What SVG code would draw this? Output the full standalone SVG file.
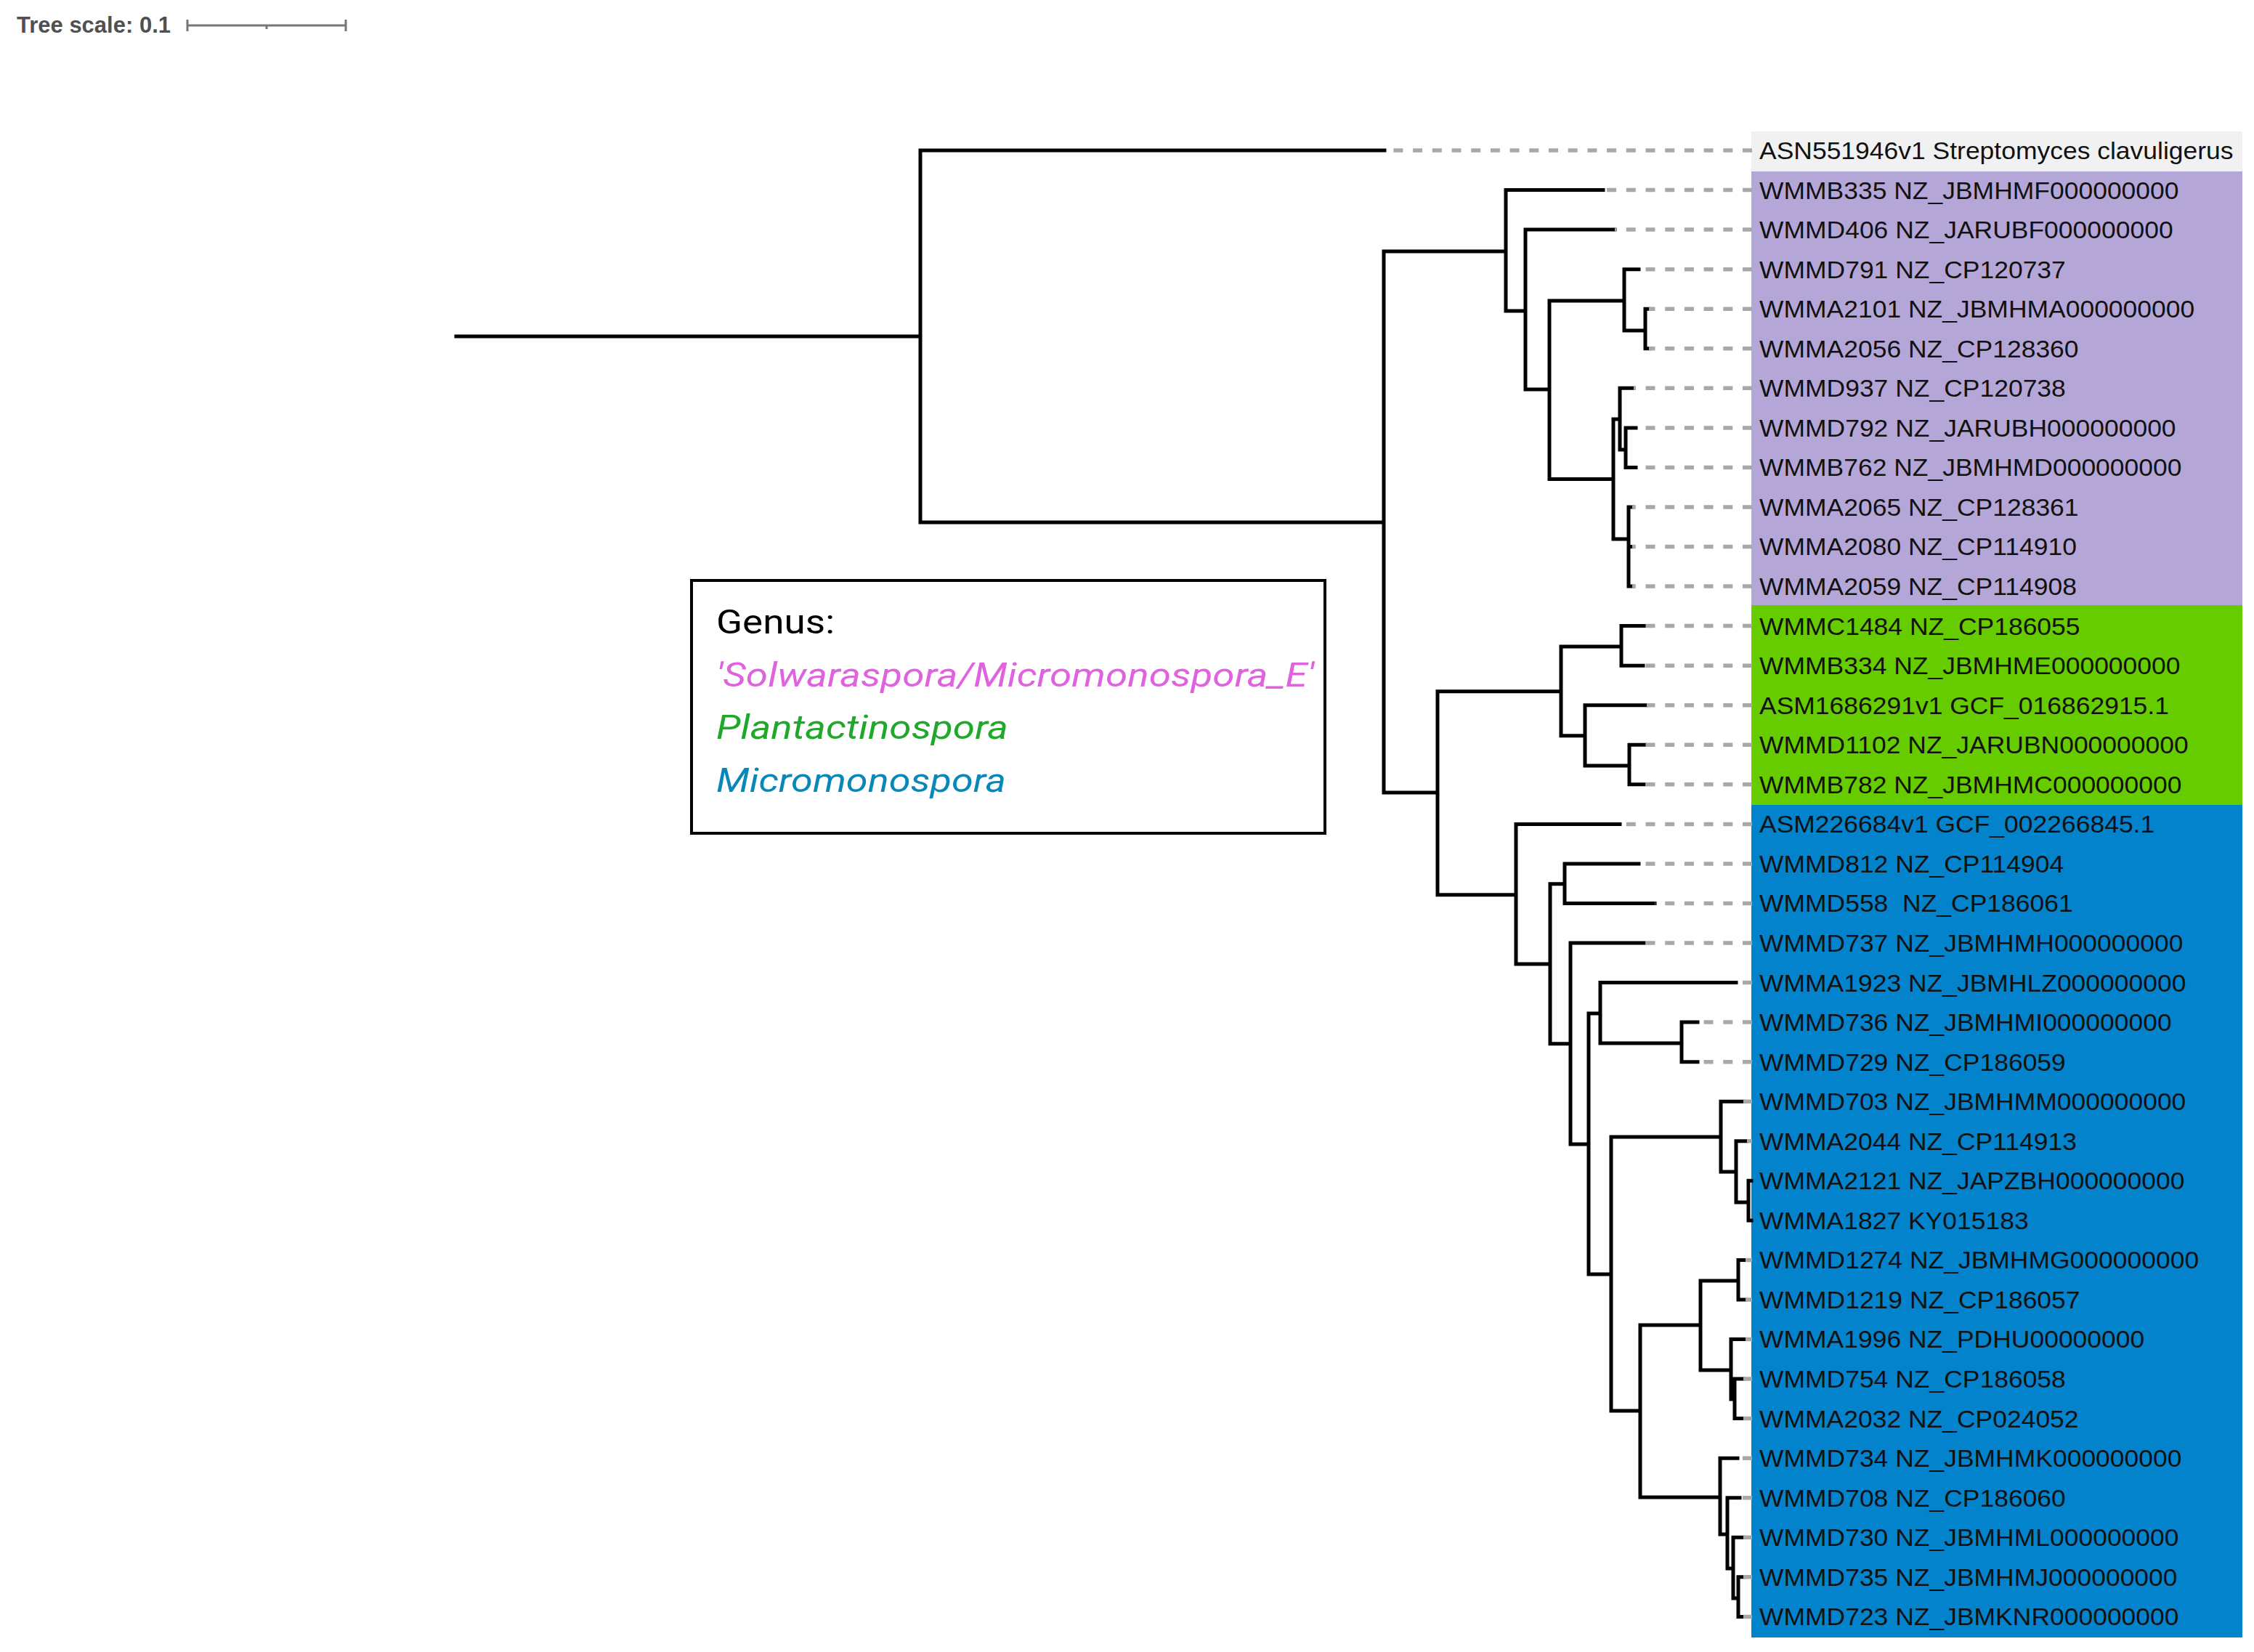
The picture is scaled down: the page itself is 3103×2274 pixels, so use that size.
<svg xmlns="http://www.w3.org/2000/svg" width="3103" height="2274" viewBox="0 0 3103 2274">
<style>
.br{fill:none;stroke:#000;stroke-width:5;stroke-linecap:square}
.ld{fill:none;stroke:#a8a8a8;stroke-width:5.5;stroke-dasharray:13 13.7}
.lbl{font-family:"Liberation Sans",Arial,sans-serif;font-size:33px;fill:#111}
.leg{font-family:Roboto,"Open Sans",sans-serif;font-size:47px}
.it{font-style:italic}
</style>
<rect width="3103" height="2274" fill="#fff"/>
<g id="scale">
<text x="23" y="45" font-family="Liberation Sans,Arial,sans-serif" font-weight="bold" font-size="31" fill="#505050">Tree scale: 0.1</text>
<path d="M258 35H476M258 27V43M476 27V43M367 35V40" fill="none" stroke="#777" stroke-width="3"/>
</g>
<g id="bands">
<rect x="2411" y="181" width="676" height="55" fill="#f1f1f1"/>
<rect x="2411" y="236" width="676" height="597" fill="#b5a6d8"/>
<rect x="2411" y="833" width="676" height="275" fill="#66cc00"/>
<rect x="2411" y="1108" width="676" height="1146" fill="#0383cc"/>
</g>
<g id="connectors">
<path class="br" d="M628 463H1267M1267 207V719M1267 207H1906M1267 719H1905
M1905 346V1091M1905 346H2073M2073 261.6V428M2073 261.6H2207M2073 428H2100
M2100 316.1V536M2100 316.1H2223M2100 536H2133M2133 414V659.5M2133 414H2236
M2236 370.7V455M2236 370.7H2256M2236 455H2265M2265 425.2V479.8M2265 425.2H2270M2265 479.8H2270
M2133 659.5H2221M2221 577V742M2221 577H2230M2230 534.3V619M2230 534.3H2249M2230 619H2238
M2238 588.9V643.4M2238 588.9H2252M2238 643.4H2252M2221 742H2242M2242 698V807.1
M2242 698H2247M2242 752.5H2247M2242 807.1H2247
M1905 1091H1979M1979 951.7V1231.7M1979 951.7H2149M2149 890V1012.7M2149 890H2232
M2232 861.6V916.2M2232 861.6H2265M2232 916.2H2262M2149 1012.7H2182M2182 970.7V1054
M2182 970.7H2267M2182 1054H2243M2243 1025.3V1079.8M2243 1025.3H2265M2243 1079.8H2263
M1979 1231.7H2087M2087 1134.4V1327M2087 1134.4H2230M2087 1327H2134M2134 1216.7V1436.7
M2134 1216.7H2154M2154 1188.9V1243.5M2154 1188.9H2256M2154 1243.5H2278
M2134 1436.7H2162M2162 1298V1575M2162 1298H2263M2162 1575H2187M2187 1395V1754
M2187 1395H2203M2203 1352.6V1436M2203 1352.6H2390M2203 1436H2315M2315 1407.1V1461.7
M2315 1407.1H2337M2315 1461.7H2337M2187 1754H2218M2218 1565V1942M2218 1565H2369
M2369 1516.2V1613M2369 1516.2H2400M2369 1613H2390M2390 1570.8V1655M2390 1570.8H2405
M2390 1655H2407M2407 1625.3V1679.9M2407 1625.3H2411M2407 1679.9H2411
M2218 1942H2258M2258 1824V2061M2258 1824H2341M2341 1763V1886M2341 1763H2393
M2393 1734.4V1789M2393 1734.4H2403M2393 1789H2403M2341 1886H2383M2383 1843.5V1926
M2383 1843.5H2403M2383 1926H2388M2388 1898.1V1952.6M2388 1898.1H2400M2388 1952.6H2400
M2258 2061H2368M2368 2007.2V2112M2368 2007.2H2392M2368 2112H2378M2378 2061.7V2159
M2378 2061.7H2395M2378 2159H2386M2386 2116.3V2200M2386 2116.3H2400M2386 2200H2393
M2393 2170.8V2225.4M2393 2170.8H2400M2393 2225.4H2400"/>
<path class="ld" d="M2412 207H1906M2412 261.6H2207M2412 316.1H2223M2412 370.7H2256M2412 425.2H2270
M2412 479.8H2270M2412 534.3H2249M2412 588.9H2252M2412 643.4H2252M2412 698H2247M2412 752.5H2247
M2412 807.1H2247M2412 861.6H2265M2412 916.2H2262M2412 970.7H2267M2412 1025.3H2265M2412 1079.8H2263
M2412 1134.4H2230M2412 1188.9H2256M2412 1243.5H2278M2412 1298H2263M2412 1352.6H2390
M2412 1407.1H2337M2412 1461.7H2337M2412 1516.2H2400M2412 1570.8H2405
M2412 1734.4H2403M2412 1789H2403M2412 1843.5H2403M2412 1898.1H2400M2412 1952.6H2400
M2412 2007.2H2392M2412 2061.7H2395M2412 2116.3H2400M2412 2170.8H2400M2412 2225.4H2400"/>
</g>
<g id="labels" transform="translate(2422 0) scale(1.075 1)" class="lbl">
<g id="n0"><text x="0" y="219">ASN551946v1 Streptomyces clavuligerus</text></g>
<g id="n1"><text x="0" y="273.6">WMMB335 NZ_JBMHMF000000000</text></g>
<g id="n2"><text x="0" y="328.1">WMMD406 NZ_JARUBF000000000</text></g>
<g id="n3"><text x="0" y="382.7">WMMD791 NZ_CP120737</text></g>
<g id="n4"><text x="0" y="437.2">WMMA2101 NZ_JBMHMA000000000</text></g>
<g id="n5"><text x="0" y="491.8">WMMA2056 NZ_CP128360</text></g>
<g id="n6"><text x="0" y="546.3">WMMD937 NZ_CP120738</text></g>
<g id="n7"><text x="0" y="600.9">WMMD792 NZ_JARUBH000000000</text></g>
<g id="n8"><text x="0" y="655.4">WMMB762 NZ_JBMHMD000000000</text></g>
<g id="n9"><text x="0" y="710">WMMA2065 NZ_CP128361</text></g>
<g id="n10"><text x="0" y="764.5">WMMA2080 NZ_CP114910</text></g>
<g id="n11"><text x="0" y="819.1">WMMA2059 NZ_CP114908</text></g>
<g id="n12"><text x="0" y="873.6">WMMC1484 NZ_CP186055</text></g>
<g id="n13"><text x="0" y="928.2">WMMB334 NZ_JBMHME000000000</text></g>
<g id="n14"><text x="0" y="982.7">ASM1686291v1 GCF_016862915.1</text></g>
<g id="n15"><text x="0" y="1037.3">WMMD1102 NZ_JARUBN000000000</text></g>
<g id="n16"><text x="0" y="1091.8">WMMB782 NZ_JBMHMC000000000</text></g>
<g id="n17"><text x="0" y="1146.4">ASM226684v1 GCF_002266845.1</text></g>
<g id="n18"><text x="0" y="1200.9">WMMD812 NZ_CP114904</text></g>
<g id="n19"><text x="0" y="1255.5" xml:space="preserve">WMMD558  NZ_CP186061</text></g>
<g id="n20"><text x="0" y="1310">WMMD737 NZ_JBMHMH000000000</text></g>
<g id="n21"><text x="0" y="1364.6">WMMA1923 NZ_JBMHLZ000000000</text></g>
<g id="n22"><text x="0" y="1419.1">WMMD736 NZ_JBMHMI000000000</text></g>
<g id="n23"><text x="0" y="1473.7">WMMD729 NZ_CP186059</text></g>
<g id="n24"><text x="0" y="1528.2">WMMD703 NZ_JBMHMM000000000</text></g>
<g id="n25"><text x="0" y="1582.8">WMMA2044 NZ_CP114913</text></g>
<g id="n26"><text x="0" y="1637.3">WMMA2121 NZ_JAPZBH000000000</text></g>
<g id="n27"><text x="0" y="1691.9">WMMA1827 KY015183</text></g>
<g id="n28"><text x="0" y="1746.4">WMMD1274 NZ_JBMHMG000000000</text></g>
<g id="n29"><text x="0" y="1801">WMMD1219 NZ_CP186057</text></g>
<g id="n30"><text x="0" y="1855.5">WMMA1996 NZ_PDHU00000000</text></g>
<g id="n31"><text x="0" y="1910.1">WMMD754 NZ_CP186058</text></g>
<g id="n32"><text x="0" y="1964.6">WMMA2032 NZ_CP024052</text></g>
<g id="n33"><text x="0" y="2019.2">WMMD734 NZ_JBMHMK000000000</text></g>
<g id="n34"><text x="0" y="2073.7">WMMD708 NZ_CP186060</text></g>
<g id="n35"><text x="0" y="2128.3">WMMD730 NZ_JBMHML000000000</text></g>
<g id="n36"><text x="0" y="2182.8">WMMD735 NZ_JBMHMJ000000000</text></g>
<g id="n37"><text x="0" y="2237.4">WMMD723 NZ_JBMKNR000000000</text></g>
</g>
<g id="legend">
<rect x="952" y="799" width="872" height="348" fill="#fff" stroke="#000" stroke-width="4"/>
<text class="leg" x="986" y="872" fill="#000" textLength="163" lengthAdjust="spacingAndGlyphs">Genus:</text>
<text class="leg it" x="986" y="945" fill="#df62df" textLength="823" lengthAdjust="spacingAndGlyphs">'Solwaraspora/Micromonospora_E'</text>
<text class="leg it" x="986" y="1017" fill="#1fa82a" textLength="402" lengthAdjust="spacingAndGlyphs">Plantactinospora</text>
<text class="leg it" x="986" y="1090" fill="#0888b8" textLength="399" lengthAdjust="spacingAndGlyphs">Micromonospora</text>
</g>
</svg>
